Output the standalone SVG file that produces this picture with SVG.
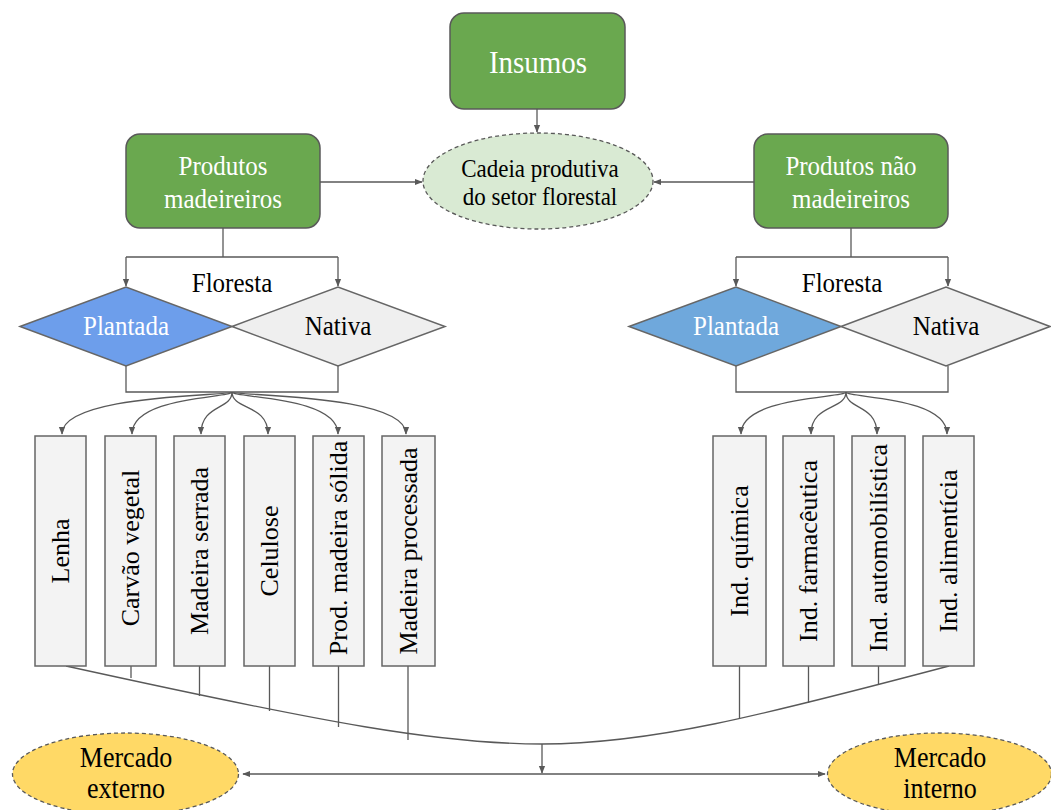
<svg xmlns="http://www.w3.org/2000/svg" width="1051" height="810" viewBox="0 0 1051 810">
<defs>
<marker id="ah" viewBox="0 0 10 10" refX="9" refY="5" markerWidth="8" markerHeight="8" markerUnits="userSpaceOnUse" orient="auto">
<path d="M0,1 L10,5 L0,9 z" fill="#595959"/>
</marker>
<marker id="ahs" viewBox="0 0 10 10" refX="1" refY="5" markerWidth="8" markerHeight="8" markerUnits="userSpaceOnUse" orient="auto">
<path d="M10,1 L0,5 L10,9 z" fill="#595959"/>
</marker>
</defs>
<style>
text{font-family:"Liberation Serif","Times New Roman",serif;text-anchor:middle}
.green{fill:#6aa84f;stroke:#595959;stroke-width:1.5}
.wt{fill:#ffffff}
.bt{fill:#000000}
.box{fill:#f3f3f3;stroke:#666666;stroke-width:1.5}
.dash{stroke:#595959;stroke-width:1.3;stroke-dasharray:4 3}
.c{fill:none;stroke:#595959;stroke-width:1.3}
.ca{fill:none;stroke:#595959;stroke-width:1.3;marker-end:url(#ah)}
.dia{stroke:#666666;stroke-width:1.5}
.rt{font-size:25px;dominant-baseline:central}
</style>
<rect width="1051" height="810" fill="#ffffff"/>

<g id="connectors">
<path class="ca" d="M537,109 L537,132"/>
<path class="ca" d="M320,182 L422,182"/>
<path class="ca" d="M754,182 L654,182"/>
<path class="c" d="M223,228 L223,257"/>
<path class="ca" d="M126,257 L338,257 M126,257 L126,286"/>
<path class="ca" d="M338,257 L338,286"/>
<path class="c" d="M126,366 L126,392 L338,392 L338,366"/>
<path class="c" d="M851,228 L851,257"/>
<path class="ca" d="M736,257 L948,257 M736,257 L736,286"/>
<path class="ca" d="M948,257 L948,286"/>
<path class="c" d="M736,366 L736,392 L948,392 L948,366"/>
<path class="ca" d="M232,392 C232,396 62,394 62,434"/>
<path class="ca" d="M232,392 C232,398 132,396 132,434"/>
<path class="ca" d="M232,392 C232,410 201,404 201,434"/>
<path class="ca" d="M232,392 C232,410 268,404 268,434"/>
<path class="ca" d="M232,392 C232,398 338,396 338,434"/>
<path class="ca" d="M232,392 C232,396 406,394 406,434"/>
<path class="ca" d="M846,392 C846,398 741,396 741,434"/>
<path class="ca" d="M846,392 C846,410 811,404 811,434"/>
<path class="ca" d="M846,392 C846,410 877,404 877,434"/>
<path class="ca" d="M846,392 C846,398 947,396 947,434"/>
<path class="c" d="M66,666 C330,724 440,744 542,744 C650,744 760,716 949,666"/>
<path class="c" d="M131,666 L131,678 M199.5,666 L199.5,696 M269.5,666 L269.5,711 M338.5,666 L338.5,727 M408,666 L408,740 M739.5,666 L739.5,719 M808.5,666 L808.5,703 M878.5,666 L878.5,685"/>
<path class="ca" d="M542,744 L542,773"/>
<path class="c" d="M243,774 L825,774" marker-start="url(#ahs)" marker-end="url(#ah)"/>
</g>

<g id="insumos">
<rect class="green" x="450" y="13" width="175" height="96" rx="14"/>
<text class="wt" transform="translate(538,73) scale(1,1.1)" font-size="29">Insumos</text>
</g>

<g id="cadeia">
<ellipse class="dash" cx="538" cy="181" rx="115" ry="48" fill="#d9ead3"/>
<text class="bt" transform="translate(540,177) scale(1,1.1)" font-size="23">Cadeia produtiva</text>
<text class="bt" transform="translate(540,205) scale(1,1.1)" font-size="23">do setor florestal</text>
</g>

<g id="produtos-madeireiros">
<rect class="green" x="126" y="134" width="194" height="94" rx="14"/>
<text class="wt" transform="translate(223,175) scale(1,1.1)" font-size="25">Produtos</text>
<text class="wt" transform="translate(223,208) scale(1,1.1)" font-size="25">madeireiros</text>
</g>

<g id="produtos-nao-madeireiros">
<rect class="green" x="754" y="134" width="194" height="94" rx="14"/>
<text class="wt" transform="translate(851,175) scale(1,1.1)" font-size="25">Produtos não</text>
<text class="wt" transform="translate(851,208) scale(1,1.1)" font-size="25">madeireiros</text>
</g>

<g id="floresta-left">
<text class="bt" transform="translate(232,292) scale(1,1.1)" font-size="25">Floresta</text>
</g>
<g id="plantada-left">
<polygon class="dia" points="20,326.5 126,287 232,326.5 126,366" fill="#6d9eeb"/>
<text class="wt" transform="translate(126,335) scale(1,1.1)" font-size="25">Plantada</text>
</g>
<g id="nativa-left">
<polygon class="dia" points="232,326.5 338,287 445,326.5 338,366" fill="#efefef"/>
<text class="bt" transform="translate(338,335) scale(1,1.1)" font-size="25">Nativa</text>
</g>

<g id="floresta-right">
<text class="bt" transform="translate(842,292) scale(1,1.1)" font-size="25">Floresta</text>
</g>
<g id="plantada-right">
<polygon class="dia" points="629,326.5 736,287 841,326.5 736,366" fill="#6fa8dc"/>
<text class="wt" transform="translate(736,335) scale(1,1.1)" font-size="25">Plantada</text>
</g>
<g id="nativa-right">
<polygon class="dia" points="841,326.5 946,287 1050,326.5 946,366" fill="#efefef"/>
<text class="bt" transform="translate(946,335) scale(1,1.1)" font-size="25">Nativa</text>
</g>

<g id="lenha">
<rect class="box" x="35" y="436" width="51" height="230"/>
<text class="bt rt" transform="translate(60.5,551) rotate(-90) scale(1.04,1)">Lenha</text>
</g>
<g id="carvao">
<rect class="box" x="105" y="436" width="51" height="230"/>
<text class="bt rt" transform="translate(130.5,548) rotate(-90) scale(1.04,1)">Carvão vegetal</text>
</g>
<g id="madeira-serrada">
<rect class="box" x="174" y="436" width="51" height="230"/>
<text class="bt rt" transform="translate(199.5,551) rotate(-90) scale(1.04,1)">Madeira serrada</text>
</g>
<g id="celulose">
<rect class="box" x="244" y="436" width="51" height="230"/>
<text class="bt rt" transform="translate(269.5,551) rotate(-90) scale(1.04,1)">Celulose</text>
</g>
<g id="prod-madeira-solida">
<rect class="box" x="313" y="436" width="51" height="230"/>
<text class="bt rt" transform="translate(338.5,548) rotate(-90) scale(1.04,1)">Prod. madeira sólida</text>
</g>
<g id="madeira-processada">
<rect class="box" x="382" y="436" width="53" height="230"/>
<text class="bt rt" transform="translate(408.5,551) rotate(-90) scale(1.04,1)">Madeira processada</text>
</g>

<g id="ind-quimica">
<rect class="box" x="713" y="436" width="53" height="230"/>
<text class="bt rt" transform="translate(739.5,551) rotate(-90) scale(1.04,1)">Ind. química</text>
</g>
<g id="ind-farmaceutica">
<rect class="box" x="783" y="436" width="51" height="230"/>
<text class="bt rt" transform="translate(808.5,551) rotate(-90) scale(1.04,1)">Ind. farmacêutica</text>
</g>
<g id="ind-automobilistica">
<rect class="box" x="852" y="436" width="53" height="230"/>
<text class="bt rt" transform="translate(878.5,548) rotate(-90) scale(1.04,1)">Ind. automobilística</text>
</g>
<g id="ind-alimenticia">
<rect class="box" x="923" y="436" width="51" height="230"/>
<text class="bt rt" transform="translate(948.5,551) rotate(-90) scale(1.04,1)">Ind. alimentícia</text>
</g>

<g id="mercado-externo">
<ellipse class="dash" cx="125.5" cy="774" rx="113" ry="41" fill="#ffd966"/>
<text class="bt" transform="translate(126,767) scale(1,1.1)" font-size="26">Mercado</text>
<text class="bt" transform="translate(126,798) scale(1,1.1)" font-size="26">externo</text>
</g>
<g id="mercado-interno">
<ellipse class="dash" cx="939.5" cy="774" rx="112" ry="41" fill="#ffd966"/>
<text class="bt" transform="translate(940,767) scale(1,1.1)" font-size="26">Mercado</text>
<text class="bt" transform="translate(940,798) scale(1,1.1)" font-size="26">interno</text>
</g>
</svg>
